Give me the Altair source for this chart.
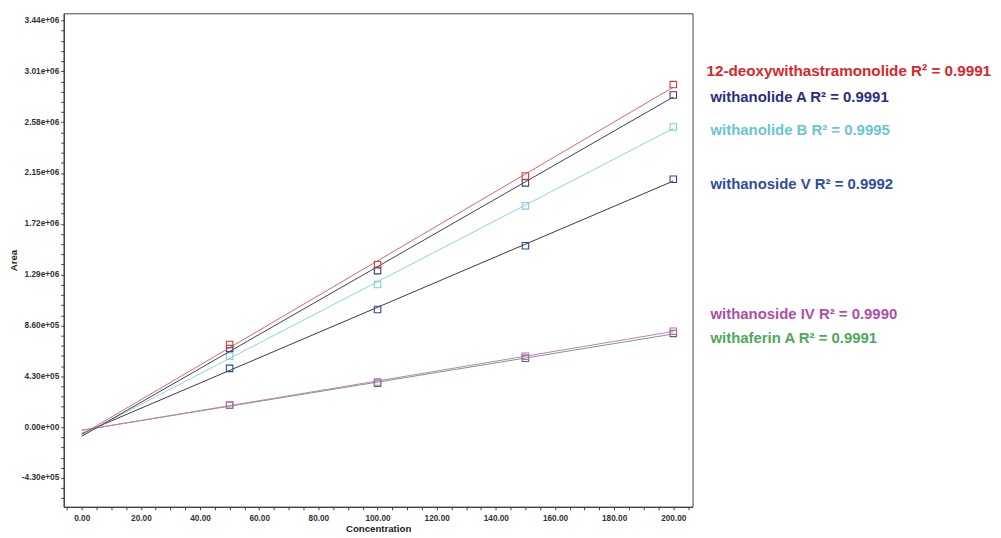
import altair as alt
import pandas as pd

# ---- data ----
conc = [50, 100, 150, 200]

compounds = [
    "12-deoxywithastramonolide",
    "withanolide A",
    "withanolide B",
    "withanoside V",
    "withanoside IV",
    "withaferin A",
]
r2 = ["0.9991", "0.9991", "0.9995", "0.9992", "0.9990", "0.9991"]

area_deoxy = [700000, 1374000, 2125000, 2898000]
area_wA = [666000, 1324000, 2066000, 2810000]
area_wB = [600000, 1206000, 1872000, 2540000]
area_wsV = [497000, 995000, 1535000, 2097000]
area_wsIV = [188000, 382000, 600000, 812000]
area_wfA = [185000, 371000, 582000, 793000]

series = [area_deoxy, area_wA, area_wB, area_wsV, area_wsIV, area_wfA]

text_colors = ["#d8272d", "#2b2e7c", "#68c6d3", "#2f4d9b", "#b04ea7", "#4ea95b"]
line_colors = ["#e06464", "#3c3d6c", "#8ed4dc", "#3a3a3a", "#c97cba", "#6f9f84"]
marker_colors = ["#d63a3a", "#3b406e", "#7fcfd8", "#2f4a94", "#b66cab", "#4d6d5c"]

y_major = [-430000, 0, 430000, 860000, 1290000, 1720000, 2150000, 2580000, 3010000, 3440000]
y_labels = ["-4.30e+05", "0.00e+00", "4.30e+05", "8.60e+05", "1.29e+06",
            "1.72e+06", "2.15e+06", "2.58e+06", "3.01e+06", "3.44e+06"]
y_minor = [-602000 + 86000 * i for i in range(48)]
x_ticks = [-5 + 5 * i for i in range(43)]
x_major = [0, 20, 40, 60, 80, 100, 120, 140, 160, 180, 200]
x_labels = ["0.00", "20.00", "40.00", "60.00", "80.00", "100.00",
            "120.00", "140.00", "160.00", "180.00", "200.00"]

# label positions (pixels relative to plot area)
label_x = [646, 650, 650, 650, 650, 650]
label_y = [58, 84, 117, 172, 302, 326]
label_size = [15.3, 15, 15, 15, 15, 15]

# ---- build ----
rows = []
for name, vals in zip(compounds, series):
    for c, a in zip(conc, vals):
        rows.append({"compound": name, "conc": c, "area": a})
df = pd.DataFrame(rows)

def chain(vals, labels):
    expr = "''"
    for v, l in zip(vals, labels):
        expr = f"datum.value == {v} ? '{l}' : ({expr})"
    return expr

xscale = alt.Scale(domain=[-6.1, 206.5], nice=False, zero=False)
yscale = alt.Scale(domain=[-674000, 3501000], nice=False, zero=False)

axis_style = dict(
    labelFont="Liberation Sans", labelFontSize=8.3, labelFontWeight="bold",
    labelColor="#333333", titleFont="Liberation Sans", titleFontSize=9.7,
    titleFontWeight="bold", titleColor="#222222", domainColor="#333333",
    tickColor="#444444", labelOverlap=False, tickSize=3, grid=False,
)

xenc = alt.X("conc:Q", scale=xscale, title="Concentration",
             axis=alt.Axis(values=x_ticks, labelExpr=chain(x_major, x_labels),
                           labelPadding=4, titlePadding=2, **axis_style))
yenc = alt.Y("area:Q", scale=yscale, title="Area",
             axis=alt.Axis(values=y_minor, labelExpr=chain(y_major, y_labels),
                           labelPadding=2, titlePadding=3, **axis_style))

layers = []
order = [5, 4, 3, 2, 1, 0]
for i in order:
    name = compounds[i]
    sub = alt.Chart(df).transform_filter(alt.datum.compound == name)
    line = sub.transform_regression("conc", "area", extent=[0, 200]).mark_line(
        strokeWidth=1, color=line_colors[i], clip=True
    ).encode(x=xenc, y=yenc)
    pts = sub.mark_point(shape="square", size=42, filled=False, strokeWidth=1.1,
                         color=marker_colors[i], opacity=1).encode(x=xenc, y=yenc)
    layers += [line, pts]

for i, name in enumerate(compounds):
    txt = alt.Chart(pd.DataFrame({"t": [f"{name} R\u00b2 = {r2[i]}"]})).mark_text(
        align="left", baseline="middle", font="Liberation Sans", fontWeight="bold",
        fontSize=label_size[i], color=text_colors[i]
    ).encode(x=alt.value(label_x[i]), y=alt.value(label_y[i]), text="t:N")
    layers.append(txt)

chart = alt.layer(*layers).properties(
    width=632, height=496,
    autosize=alt.AutoSizeParams(type="none"),
    padding={"left": 56, "top": 4, "right": 302, "bottom": 28},
).configure(background="white").configure_view(stroke="#444444", strokeWidth=1)

chart.save("out.html", embed_options={"renderer": "svg", "actions": False})
